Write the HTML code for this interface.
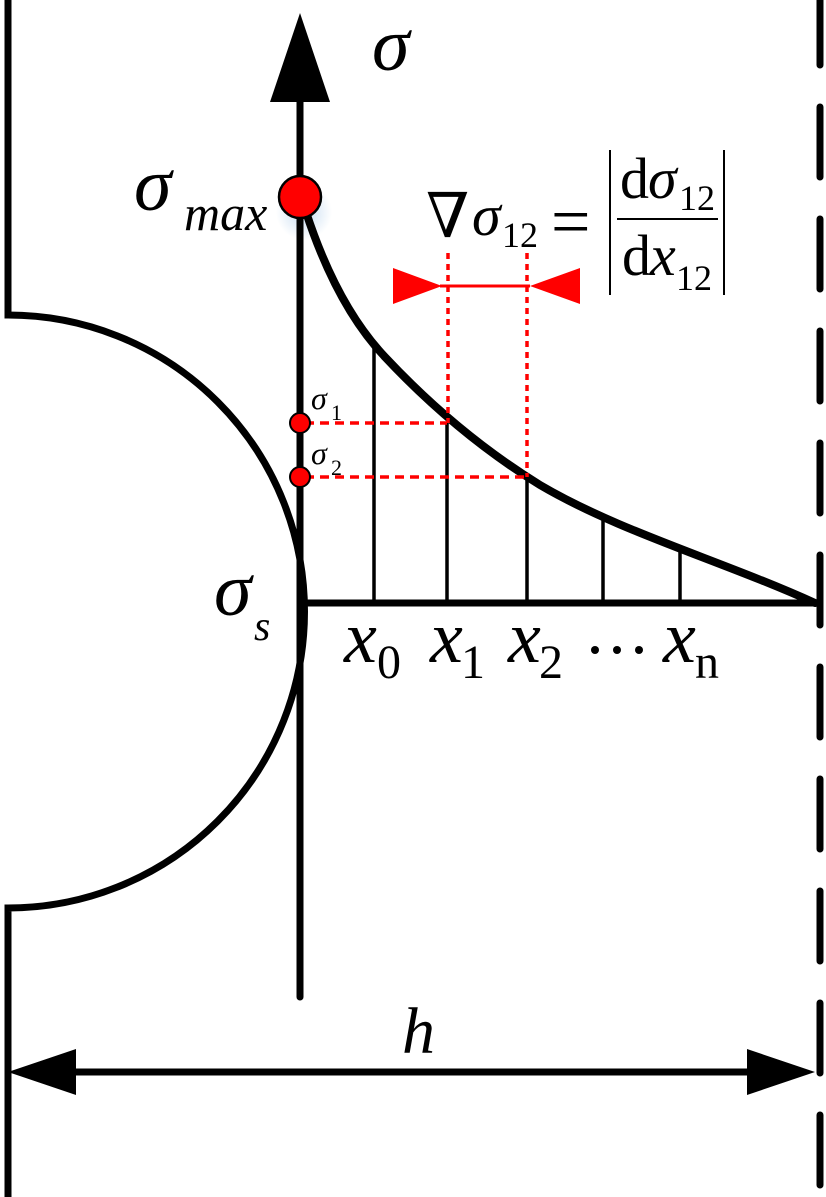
<!DOCTYPE html>
<html><head><meta charset="utf-8"><style>
html,body{margin:0;padding:0;background:#fff;}
svg{display:block;}
text{font-family:"Liberation Serif","DejaVu Serif",serif;fill:#000;}
.i{font-style:italic;}
</style></head><body>
<svg width="826" height="1197" viewBox="0 0 826 1197" xmlns="http://www.w3.org/2000/svg">
<defs>
<radialGradient id="glow"><stop offset="0" stop-color="#9fc3e6" stop-opacity="0.6"/><stop offset="1" stop-color="#9fc3e6" stop-opacity="0"/></radialGradient>
</defs>
<!-- glow -->
<circle cx="304" cy="212" r="28" fill="url(#glow)"/>
<!-- left wall + semicircle -->
<path d="M8 0 L8 315 A296.5 296.5 0 0 1 8 908 L8 1197" fill="none" stroke="#000" stroke-width="7"/>
<!-- right dashed wall -->
<line x1="820" y1="-5" x2="820" y2="1197" stroke="#000" stroke-width="7" stroke-dasharray="70 42" stroke-linecap="round"/>
<!-- sigma axis -->
<line x1="300" y1="90" x2="300" y2="997" stroke="#000" stroke-width="7" stroke-linecap="round"/>
<polygon points="300,13 270,102 330,102" fill="#000"/>
<!-- x axis -->
<line x1="300" y1="603" x2="818" y2="603" stroke="#000" stroke-width="7"/>
<!-- verticals -->
<g stroke="#000" stroke-width="3.5">
<line x1="374" y1="345" x2="374" y2="603"/>
<line x1="447" y1="422" x2="447" y2="603"/>
<line x1="527" y1="477" x2="527" y2="603"/>
<line x1="603" y1="520" x2="603" y2="603"/>
<line x1="680" y1="550" x2="680" y2="603"/>
</g>
<!-- curve -->
<path d="M306 212 C325 270 350 320 385 357 C430 405 480 448 540 485 C620 532 720 560 815 603" fill="none" stroke="#000" stroke-width="8" stroke-linecap="round"/>
<!-- red dashed -->
<g stroke="#f00" stroke-width="3.5" fill="none">
<line x1="305" y1="423" x2="447" y2="423" stroke-dasharray="9 6"/>
<line x1="305" y1="477" x2="527" y2="477" stroke-dasharray="9 6"/>
<line x1="448" y1="253" x2="448" y2="423" stroke-dasharray="6 5"/>
<line x1="527" y1="253" x2="527" y2="477" stroke-dasharray="6 5"/>
<line x1="440" y1="286" x2="530" y2="286" stroke-width="3"/>
</g>
<polygon points="393,268 393,304 442,286" fill="#f00"/>
<polygon points="580,268 580,304 530,286" fill="#f00"/>
<!-- red dots -->
<circle cx="300" cy="197" r="21" fill="#f00" stroke="#000" stroke-width="2.5"/>
<circle cx="300" cy="423" r="10" fill="#f00" stroke="#000" stroke-width="2"/>
<circle cx="300" cy="477" r="10" fill="#f00" stroke="#000" stroke-width="2"/>
<!-- h dimension -->
<line x1="60" y1="1072" x2="760" y2="1072" stroke="#000" stroke-width="7"/>
<polygon points="8,1072 76,1049 76,1095" fill="#000"/>
<polygon points="815,1072 747,1049 747,1095" fill="#000"/>
<text class="i" x="402" y="1053" font-size="66">h</text>
<!-- labels -->
<text class="i" x="372" y="70" font-size="76">σ</text>
<text class="i" x="134" y="210" font-size="76">σ</text>
<text class="i" x="184" y="230" font-size="50">max</text>
<text class="i" x="311" y="409" font-size="32">σ</text>
<text x="331" y="420" font-size="22">1</text>
<text class="i" x="311" y="464" font-size="32">σ</text>
<text x="331" y="475" font-size="22">2</text>
<text class="i" x="214" y="615" font-size="76">σ</text>
<text class="i" x="254" y="640" font-size="42">s</text>
<text class="i" x="344" y="662" font-size="74">x</text><text x="377" y="678" font-size="48">0</text>
<text class="i" x="430" y="662" font-size="74">x</text><text x="461" y="678" font-size="48">1</text>
<text class="i" x="508" y="662" font-size="74">x</text><text x="539" y="678" font-size="48">2</text>
<circle cx="595" cy="650" r="4" fill="#000"/>
<circle cx="617" cy="650" r="4" fill="#000"/>
<circle cx="639" cy="650" r="4" fill="#000"/>
<text class="i" x="663" y="662" font-size="74">x</text><text x="695" y="678" font-size="48">n</text>
<!-- formula -->
<text x="426" y="237" font-size="62">∇</text>
<text class="i" x="472" y="235" font-size="58">σ</text>
<text x="502" y="247" font-size="36">12</text>
<text x="551" y="245" font-size="70">=</text>
<line x1="610" y1="150" x2="610" y2="295" stroke="#000" stroke-width="2"/>
<line x1="724" y1="150" x2="724" y2="295" stroke="#000" stroke-width="2"/>
<line x1="617" y1="219" x2="718" y2="219" stroke="#000" stroke-width="2"/>
<text x="620" y="198" font-size="58">d</text>
<text class="i" x="648" y="198" font-size="58">σ</text>
<text x="679" y="210" font-size="36">12</text>
<text x="622" y="275" font-size="58">d</text>
<text class="i" x="650" y="275" font-size="58">x</text>
<text x="676" y="290" font-size="36">12</text>
</svg>
</body></html>
